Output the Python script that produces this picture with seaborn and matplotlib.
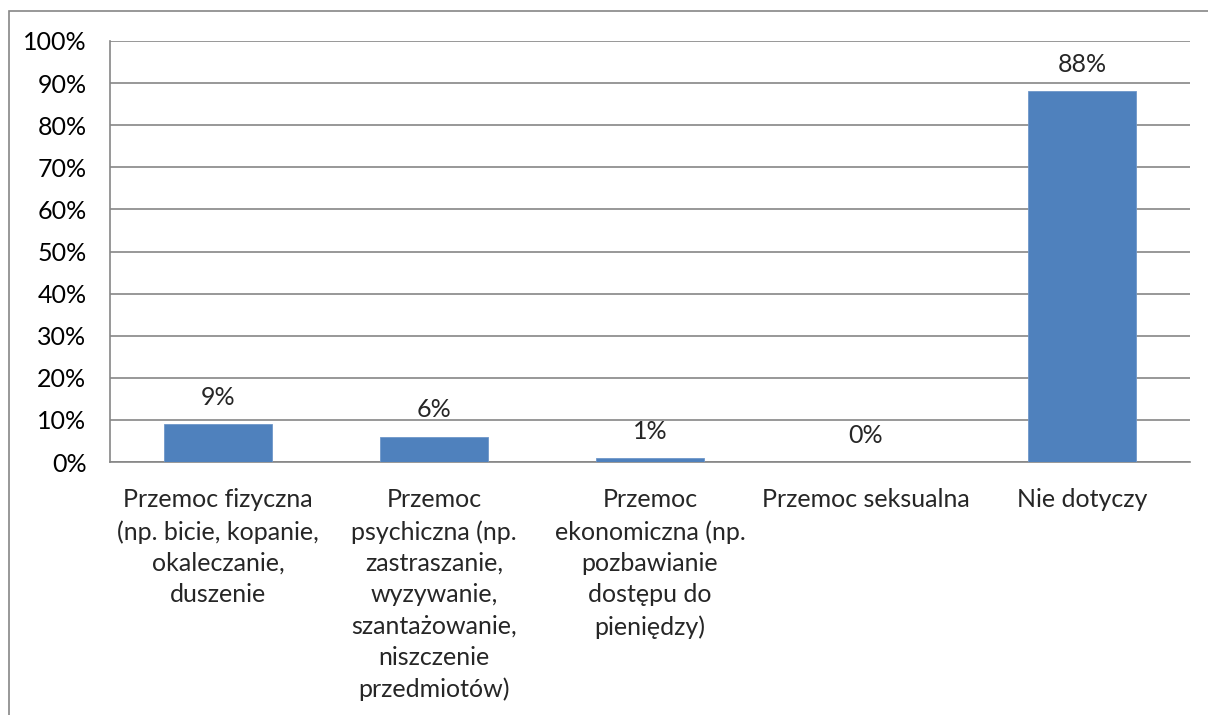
import matplotlib
matplotlib.use("Agg")
import matplotlib.pyplot as plt
import pandas as pd
import seaborn as sns
from matplotlib.patches import Rectangle

categories = [
    "Przemoc fizyczna\n(np. bicie, kopanie,\nokaleczanie,\nduszenie",
    "Przemoc\npsychiczna (np.\nzastraszanie,\nwyzywanie,\nszantażowanie,\nniszczenie\nprzedmiotów)",
    "Przemoc\nekonomiczna (np.\npozbawianie\ndostępu do\npieniędzy)",
    "Przemoc seksualna",
    "Nie dotyczy",
]
values = [9, 6, 1, 0, 88]
y_ticks = list(range(0, 101, 10))

BAR = "#4f81bd"
GRID = "#868686"

sns.set_theme(style="white")
plt.rcParams["font.family"] = ["Lato", "DejaVu Sans"]

df = pd.DataFrame({"kategoria": categories, "procent": values})

fig = plt.figure(figsize=(12.08, 7.15), dpi=100)
ax = fig.add_axes([0.0911, 0.3538, 0.8939, 0.5889])

sns.barplot(data=df, x="kategoria", y="procent", color=BAR, width=0.5,
            saturation=1, edgecolor="#6f97c9", linewidth=0.6, ax=ax, zorder=3)

ax.set_ylim(0, 100)
ax.set_xlim(-0.5, len(categories) - 0.5)
ax.set_yticks(y_ticks)
ax.set_yticklabels([f"{t}%" for t in y_ticks], fontsize=18, color="black")
ax.tick_params(axis="y", length=0, pad=17)
ax.tick_params(axis="x", length=0, pad=19)
for lbl in ax.get_xticklabels():
    lbl.set_fontsize(18)
    lbl.set_linespacing(1.44)
    lbl.set_verticalalignment("top")
    lbl.set_multialignment("center")

ax.yaxis.grid(True, color=GRID, linewidth=1.2, zorder=0)
ax.set_axisbelow(True)
for side in ["top", "right"]:
    ax.spines[side].set_visible(False)
for side in ["left", "bottom"]:
    ax.spines[side].set_color(GRID)
    ax.spines[side].set_linewidth(1.2)

for i, v in enumerate(values):
    ax.annotate(f"{v}%", (i, v), xytext=(0, 11), textcoords="offset points",
                ha="center", va="bottom", fontsize=18)

ax.set_xlabel("")
ax.set_ylabel("")

fig.patches.append(Rectangle((9 / 1208, -0.05), 1.2, 1 - 11 / 715 + 0.05,
                             transform=fig.transFigure, fill=False,
                             edgecolor=GRID, linewidth=1.2))

fig.savefig("out.png", dpi=100, facecolor="white")
